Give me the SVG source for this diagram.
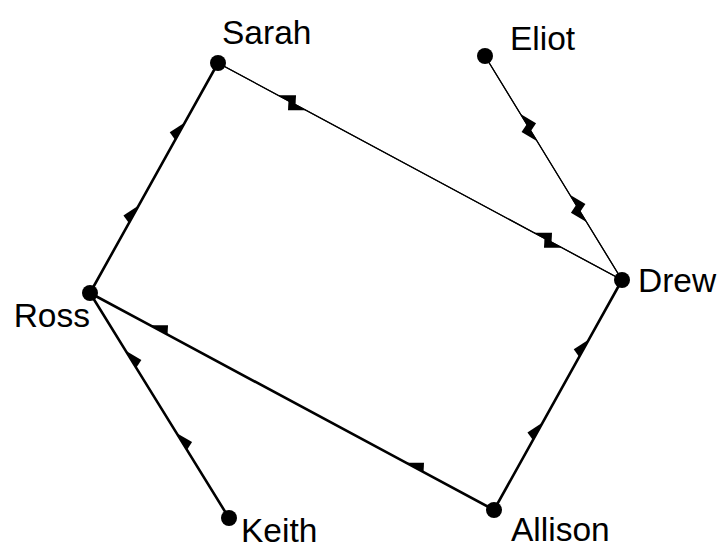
<svg xmlns="http://www.w3.org/2000/svg" width="720" height="550" viewBox="0 0 720 550">
<style>
.thick{fill:none;stroke:#000;stroke-width:2.6}
.thin{fill:none;stroke:#000;stroke-width:1.2}
.r{marker-mid:url(#barbR)}
.l{marker-mid:url(#barbL)}
.node circle{fill:#000}
.node text{font-family:"Liberation Sans",Arial,sans-serif;font-size:33.5px;fill:#000}
</style>
<defs>
<marker id="barbR" markerUnits="userSpaceOnUse" orient="auto" viewBox="-24 -12 26 24" refX="0" refY="0" markerWidth="26" markerHeight="24" overflow="visible">
<path d="M0,0 L-16,8.5 L-20,0 Z" fill="#000"/>
</marker>
<marker id="barbL" markerUnits="userSpaceOnUse" orient="auto" viewBox="-24 -12 26 24" refX="0" refY="0" markerWidth="26" markerHeight="24" overflow="visible">
<path d="M0,0 L-16,-8.5 L-20,0 Z" fill="#000"/>
</marker>
</defs>
<g id="edges">
<path class="thick l" d="M90,293 L138.63,205.62 L184.93,122.43 L218,63"/>
<path class="thin r" d="M218,63 L306.1,110.32 L562.1,247.82 L622,280"/>
<path class="thin r" d="M622,280 L533.9,232.68 L277.9,95.18 L218,63"/>
<path class="thin r" d="M485,56 L537.18,141.31 L586.52,221.99 L622,280"/>
<path class="thin r" d="M622,280 L569.82,194.69 L520.48,114.01 L485,56"/>
<path class="thick r" d="M494,510 L405.9,462.68 L149.9,325.18 L90,293"/>
<path class="thick l" d="M494,510 L542.63,422.62 L588.93,339.43 L622,280"/>
<path class="thick r" d="M229,518 L176.44,432.93 L125.74,350.85 L90,293"/>
</g>
<g id="node-sarah" class="node"><circle cx="218" cy="63" r="8"/><text x="222" y="44">Sarah</text></g>
<g id="node-eliot" class="node"><circle cx="485" cy="56" r="8"/><text x="510" y="50">Eliot</text></g>
<g id="node-drew" class="node"><circle cx="622" cy="280" r="8"/><text x="638" y="292">Drew</text></g>
<g id="node-ross" class="node"><circle cx="90" cy="293" r="8"/><text x="90" y="327" text-anchor="end">Ross</text></g>
<g id="node-keith" class="node"><circle cx="229" cy="518" r="8"/><text x="241" y="542">Keith</text></g>
<g id="node-allison" class="node"><circle cx="494" cy="510" r="8"/><text x="511" y="541">Allison</text></g>
</svg>
